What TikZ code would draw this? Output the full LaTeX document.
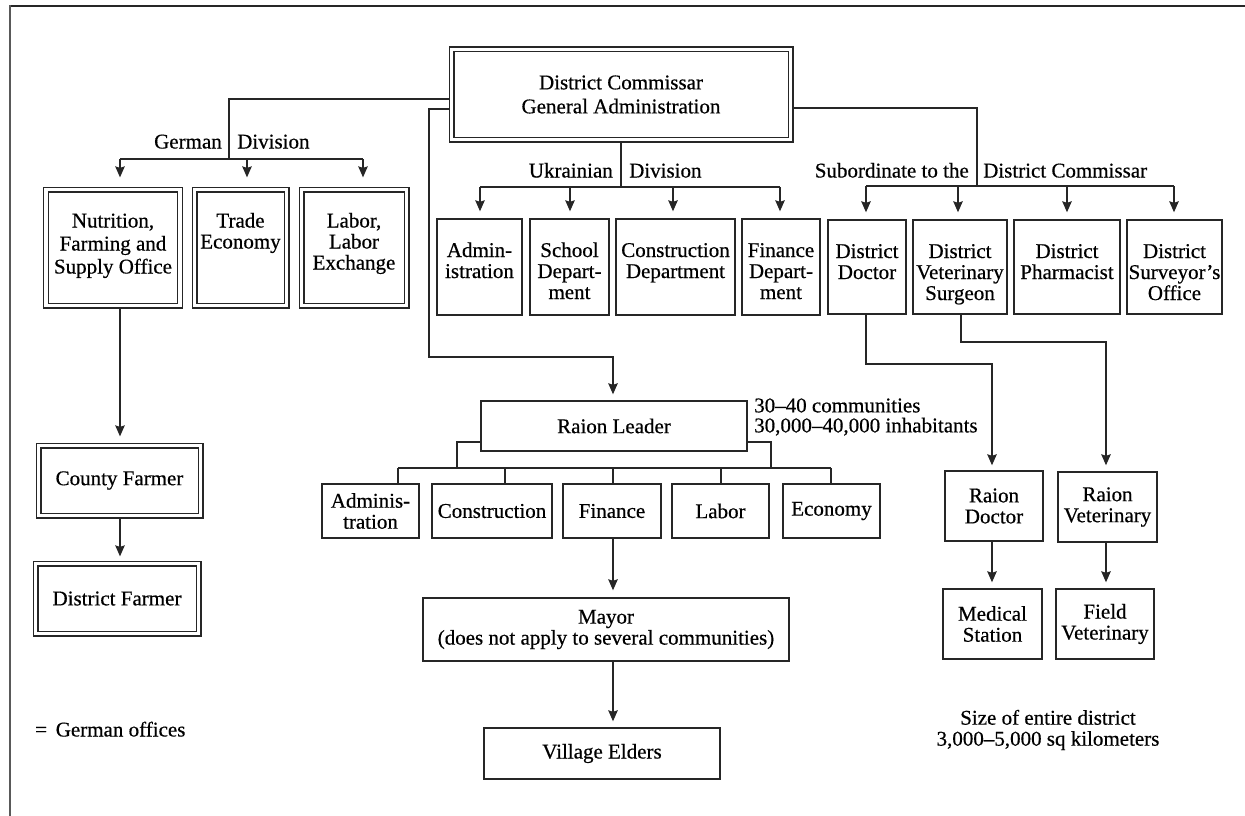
\documentclass[tikz,border=0pt]{standalone}
\usepackage{fontspec}
\setmainfont{Liberation Serif}[FakeBold=0.5]
\usetikzlibrary{arrows.meta,backgrounds}
\newcommand\topbx[3]{\parbox[c][#2][t]{#1}{\centering\vspace*{22pt}\rule{0pt}{16pt}#3\par}}
\begin{document}
\begin{tikzpicture}[x=1pt,y=-1pt,
  every node/.style={font=\fontsize{21}{21}\selectfont, inner sep=0pt},
  box/.style={draw=black!85, line width=1.4pt, fill=white},
  dbox/.style={draw=black!85, line width=1.25pt, double=white, double distance=3.5pt, fill=white},
  conn/.style={draw=black!85, line width=1.4pt},
  arr/.style={conn, -{Stealth[length=11pt,width=9.5pt,inset=1.5pt]}, shorten >=#1},
  arr/.default=7pt]
\useasboundingbox (0,0) rectangle (1245,816);

% frame
\draw[line width=2pt, black!85] (10,6.5) -- (1245,6.5);
\draw[line width=2.6pt, black!65] (10,5.5) -- (10,816);

% top
\node[dbox, minimum width=339pt, minimum height=90pt, align=center, font=\fontsize{21}{24}\selectfont] (dc) at (621,94.5) {District Commissar\\General Administration};

% German division
\node[dbox] (nutr) at (113,247.5) {\topbx{134pt}{116pt}{\fontsize{21}{23}\selectfont Nutrition,\\Farming and\\Supply Office}};
\node[dbox] (trade) at (240.5,247.5) {\topbx{92pt}{116pt}{Trade\\Economy}};
\node[dbox] (labex) at (354,247.5) {\topbx{105pt}{116pt}{Labor,\\Labor\\Exchange}};
\node[dbox, minimum width=162pt, minimum height=70pt] (county) at (119.5,480.5) {County Farmer};
\node[dbox, minimum width=163pt, minimum height=70pt] (dfarm) at (117,598.5) {District Farmer};

\node[anchor=base east] (gerl) at (222,148.5) {German};
\node[anchor=base west] (gerr) at (237,148.5) {Division};

% Ukrainian division
\node[box] (uadm) at (479.5,267) {\topbx{85pt}{96pt}{Admin-\\istration}};
\node[box] (usch) at (569.5,267) {\topbx{79pt}{96pt}{School\\Depart-\\ment}};
\node[box] (ucon) at (675.5,267) {\topbx{119pt}{96pt}{Construction\\Department}};
\node[box] (ufin) at (781,267) {\topbx{78pt}{96pt}{Finance\\Depart-\\ment}};

\node[anchor=base east] (ukrl) at (613,177.5) {Ukrainian};
\node[anchor=base west] (ukrr) at (629,177.5) {Division};

% Subordinate
\node[box] (sdoc) at (867,267) {\topbx{78pt}{94pt}{District\\Doctor}};
\node[box] (svet) at (960,267) {\topbx{94pt}{94pt}{District\\Veterinary\\Surgeon}};
\node[box] (spha) at (1067,267) {\topbx{106pt}{94pt}{District\\Pharmacist}};
\node[box] (ssur) at (1174.5,267) {\topbx{95pt}{94pt}{District\\Surveyor’s\\Office}};

\node[anchor=base east] (subl) at (969,177.5) {Subordinate to the};
\node[anchor=base west] (subr) at (983,177.5) {District Commissar};

% Raion
\node[box, minimum width=266pt, minimum height=50pt] (rl) at (614,426) {Raion Leader};
\node[anchor=west, align=left, font=\fontsize{21}{20}\selectfont] (rlnote) at (754,417) {30–40 communities\\30,000–40,000 inhabitants};

\node[box, minimum width=97pt, minimum height=54pt, align=center] (radm) at (370.5,511) {Adminis-\\tration};
\node[box, minimum width=120pt, minimum height=54pt] (rcon) at (492,511) {Construction};
\node[box, minimum width=98pt, minimum height=54pt] (rfin) at (612,511) {Finance};
\node[box, minimum width=97pt, minimum height=54pt] (rlab) at (720.5,511) {Labor};
\node[box, minimum width=97pt, minimum height=54pt] (reco) at (831.5,511) {Economy};

\node[box, minimum width=366pt, minimum height=63pt, align=center] (mayor) at (606,629.5) {Mayor\\(does not apply to several communities)};
\node[box, minimum width=236pt, minimum height=51pt] (ve) at (602,753.5) {Village Elders};

\node[box, minimum width=98pt, minimum height=70pt, align=center] (rdoc) at (994,506) {Raion\\Doctor};
\node[box, minimum width=99pt, minimum height=70pt, align=center] (rvet) at (1107.5,507) {Raion\\Veterinary};
\node[box, minimum width=99pt, minimum height=70pt, align=center] (med) at (992.5,624) {Medical\\Station};
\node[box, minimum width=98pt, minimum height=70pt, align=center] (fvet) at (1105,624) {Field\\Veterinary};

\node[align=center] (size) at (1048,730) {Size of entire district\\3,000–5,000 sq kilometers};
\node[anchor=base west] (legend) at (35,736.5) {=\, German offices};

\begin{scope}[on background layer]
% German division
\coordinate (ga) at (120,159);
\coordinate (gb) at (247,159);
\coordinate (gc) at (363,159);
\coordinate (gj) at (229,159);
\draw[conn] ([yshift=-4.5pt]dc.west) -| (gj);
\draw[conn] (ga) -- (gc);
\draw[arr=11.5pt] (ga) -- (ga |- nutr.north);
\draw[arr=11.5pt] (gb) -- (gb |- trade.north);
\draw[arr=11.5pt] (gc) -- (gc |- labex.north);
\draw[arr=8.5pt] (ga |- nutr.south) -- (ga |- county.north);
\draw[arr=6.5pt] (ga |- county.south) -- (ga |- dfarm.north);

% Ukrainian division
\coordinate (ua) at (480,187);
\coordinate (ub) at (570,187);
\coordinate (uc) at (673,187);
\coordinate (ud) at (780,187);
\draw[conn] (dc.south) -- (dc.south |- ua);
\draw[conn] (ua) -- (ud);
\draw[arr] (ua) -- (ua |- uadm.north);
\draw[arr] (ub) -- (ub |- usch.north);
\draw[arr] (uc) -- (uc |- ucon.north);
\draw[arr] (ud) -- (ud |- ufin.north);

% Subordinate
\coordinate (sj) at (977,186);
\coordinate (sa) at (866,186);
\coordinate (sb) at (958,186);
\coordinate (sc) at (1067,186);
\coordinate (sd) at (1174,186);
\draw[conn] ([yshift=-13.5pt]dc.east) -| (sj);
\draw[conn] (sa) -- (sd);
\draw[arr] (sa) -- (sa |- sdoc.north);
\draw[arr] (sb) -- (sb |- svet.north);
\draw[arr] (sc) -- (sc |- spha.north);
\draw[arr] (sd) -- (sd |- ssur.north);

% Raion leader
\coordinate (rk) at (429,357);
\draw[arr=6pt] ([yshift=-14.5pt]dc.west) -| (rk) -| ([xshift=-1pt]rl.north);

\coordinate (ra) at (398,468);
\coordinate (rb) at (505,468);
\coordinate (rc) at (613,468);
\coordinate (rd) at (721,468);
\coordinate (re) at (831,468);
\coordinate (rp) at (457,468);
\coordinate (rq) at (771,468);
\draw[conn] ([yshift=-16pt]rl.west) -| (rp);
\draw[conn] ([yshift=-16pt]rl.east) -| (rq);
\draw[conn] (ra) -- (re);
\draw[conn] (ra) -- (ra |- radm.north);
\draw[conn] (rb) -- (rb |- rcon.north);
\draw[conn] (rc) -- (rc |- rfin.north);
\draw[conn] (rd) -- (rd |- rlab.north);
\draw[conn] (re) -- (re |- reco.north);

\draw[arr] (rc |- rfin.south) -- (rc |- mayor.north);
\draw[arr=6pt] (rc |- mayor.south) -- (rc |- ve.north);

% doctors
\coordinate (dj) at (992,364);
\coordinate (vj) at (1106,342);
\draw[arr=5pt] ([xshift=-1pt]sdoc.south) |- (dj) -- (dj |- rdoc.north);
\draw[arr=6pt] ([xshift=1pt]svet.south) |- (vj) -- (vj |- rvet.north);
\draw[arr=6pt] (dj |- rdoc.south) -- (dj |- med.north);
\draw[arr=6pt] (vj |- rvet.south) -- (vj |- fvet.north);
\end{scope}
\end{tikzpicture}
\end{document}
